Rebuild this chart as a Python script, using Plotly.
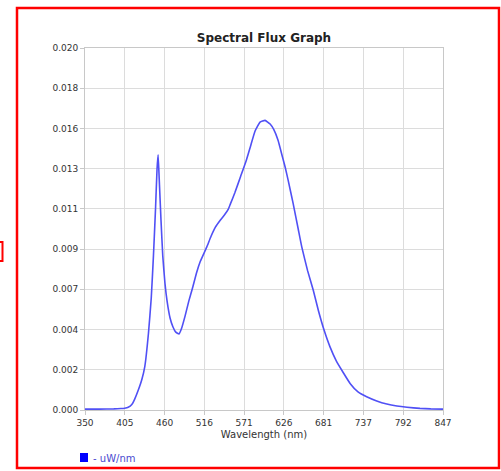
import plotly.graph_objects as go
import numpy as np

# Data
wavelength_nm = [350, 370, 390, 400, 405, 410, 415, 419, 424, 429, 433, 438, 442, 445, 448, 450, 451.5,
                 453, 455.5, 458, 461, 464, 468, 472, 476, 480.5, 484, 489, 494, 499, 505, 510,
                 519, 525, 531, 538, 544, 549, 552, 558, 566, 574, 580, 586, 593, 600,
                 607, 612, 618, 624, 628, 632, 639, 646, 651, 659, 667, 674, 682, 690, 699,
                 708, 718, 729, 741, 755, 769, 783, 797, 815, 830, 847]
flux_uw_nm = [0.00005, 0.00005, 0.00006, 0.00008, 0.0001, 0.00015, 0.0003, 0.0006, 0.0011, 0.0017, 0.0024, 0.0042, 0.0062, 0.0085, 0.0112, 0.0133, 0.0141,
              0.0128, 0.0105, 0.0085, 0.0070, 0.0060, 0.0051, 0.0046, 0.0043, 0.0042, 0.0045, 0.0052, 0.0060, 0.0067, 0.0076, 0.0082,
              0.0090, 0.0096, 0.0101, 0.0105, 0.0108, 0.0111, 0.0114, 0.0120, 0.0129, 0.0138, 0.0146, 0.0154, 0.0159, 0.0160,
              0.0158, 0.0155, 0.0149, 0.0140, 0.0134, 0.0127, 0.0114, 0.0100, 0.0090, 0.0077, 0.0066, 0.0055, 0.0044, 0.0035, 0.0027,
              0.0021, 0.00147, 0.0010, 0.00073, 0.00050, 0.00033, 0.00022, 0.00015, 0.00009, 0.00006, 0.00005]

x_min, x_max = 350, 847
y_min, y_max = 0.0, 0.020
x_tick_labels = ["350", "405", "460", "516", "571", "626", "681", "737", "792", "847"]
y_tick_labels = ["0.000", "0.002", "0.004", "0.007", "0.009", "0.011", "0.013", "0.016", "0.018", "0.020"]

x_tickvals = list(np.linspace(x_min, x_max, len(x_tick_labels)))
y_tickvals = list(np.linspace(y_min, y_max, len(y_tick_labels)))

fig = go.Figure()
fig.add_trace(go.Scatter(
    x=wavelength_nm, y=flux_uw_nm, mode="lines",
    line=dict(color="#5050f5", width=1.6, shape="spline", smoothing=0.4),
    showlegend=False, hoverinfo="skip"))

W, H = 501, 471
L, R, T, B = 85, 58, 48, 61
PW, PH = W - L - R, H - T - B

fig.update_layout(
    width=W, height=H,
    margin=dict(l=L, r=R, t=T, b=B),
    paper_bgcolor="white", plot_bgcolor="white",
    font=dict(family="DejaVu Sans", size=9, color="#333333"),
    title=dict(text="<b>Spectral Flux Graph</b>", x=(L + (W - R)) / 2 / W, xanchor="center",
               y=1 - 38 / H, yanchor="middle", font=dict(size=12, color="#222222", family="DejaVu Sans")),
    xaxis=dict(range=[x_min, x_max], tickvals=x_tickvals, ticktext=x_tick_labels,
               showgrid=True, gridcolor="#dcdcdc", gridwidth=1, zeroline=False,
               showline=True, linecolor="#c8c8c8", mirror=True,
               ticks="outside", ticklen=4, tickcolor="#c8c8c8",
               tickfont=dict(size=9, color="#333333"),
               title=dict(text="Wavelength (nm)", font=dict(size=10, color="#333333"), standoff=4)),
    yaxis=dict(range=[y_min, y_max], tickvals=y_tickvals, ticktext=y_tick_labels,
               showgrid=True, gridcolor="#dcdcdc", gridwidth=1, zeroline=False,
               showline=True, linecolor="#c8c8c8", mirror=True,
               ticks="outside", ticklen=4, tickcolor="#c8c8c8",
               tickfont=dict(size=9, color="#333333")),
)

# pixel -> paper (paper coords span the plot area)
def px_x(p):
    return (p - L) / PW

def px_y(p):
    return (H - B - p) / PH

# red frame around the chart
fig.add_shape(type="rect", xref="paper", yref="paper",
              x0=px_x(17), x1=px_x(499), y0=px_y(468), y1=px_y(8),
              line=dict(color="#ff0000", width=2.5), layer="above")
# small red bracket at the far left
fig.add_shape(type="path", xref="paper", yref="paper",
              path=f"M {px_x(-2)},{px_y(242)} L {px_x(2.5)},{px_y(242)} L {px_x(2.5)},{px_y(261)} L {px_x(-2)},{px_y(261)}",
              line=dict(color="#ff0000", width=2))

# legend: blue square + label
fig.add_shape(type="rect", xref="paper", yref="paper",
              x0=px_x(80), x1=px_x(88), y0=px_y(462), y1=px_y(453),
              fillcolor="#0000ff", line=dict(width=0))
fig.add_annotation(text="- uW/nm", xref="paper", yref="paper",
                   x=px_x(91), y=px_y(458), xanchor="left", yanchor="middle",
                   showarrow=False, font=dict(size=10, color="#4a4ad0"))

fig.write_html("out.html", config={"displayModeBar": False},
               post_script="document.body.style.margin='0';document.body.style.padding='0';")
